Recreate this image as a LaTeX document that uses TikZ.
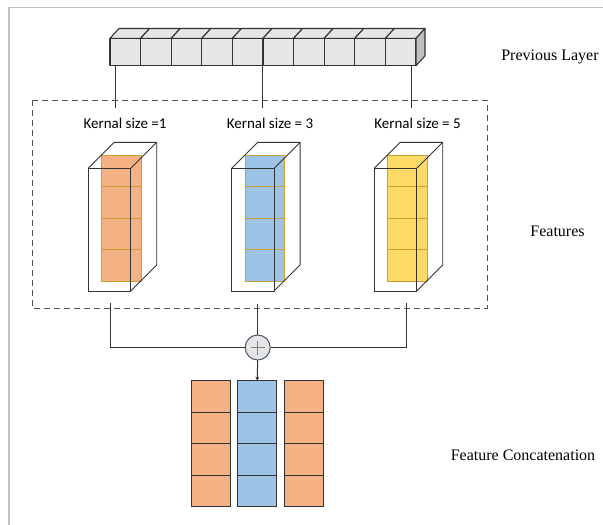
\documentclass[tikz,border=0pt]{standalone}
\usepackage{fontspec}
\setmainfont{Liberation Serif}
\newfontfamily\calib{Carlito}
\usetikzlibrary{arrows.meta}
\definecolor{framegrey}{HTML}{C4C4C4}
\definecolor{cubefill}{HTML}{E7E6E6}
\definecolor{cubeside}{HTML}{BFBFBF}
\definecolor{edge}{HTML}{333333}
\definecolor{orangef}{HTML}{F4B183}
\definecolor{bluef}{HTML}{9DC3E6}
\definecolor{yellowf}{HTML}{FFD966}
\definecolor{goldline}{HTML}{C9A030}
\definecolor{plusring}{HTML}{44546A}
\tikzset{
  cubeface/.style={draw=edge, line width=1.1pt, fill=cubefill, line join=round},
  boxline/.style={draw=edge, line width=0.9pt, line join=round},
  stripcell/.style={draw=goldline, line width=0.9pt},
  wire/.style={draw=edge, line width=1pt},
  kernlabel/.style={font=\calib\fontsize{15}{18}\selectfont, inner sep=0pt},
  sidelabel/.style={font=\fontsize{16}{19}\selectfont, inner sep=0pt},
  concatcell/.style={draw=edge, line width=0.9pt},
}
\begin{document}
\begin{tikzpicture}[x=1pt,y=-1pt]
\useasboundingbox (0,0) rectangle (603,525);

% page frame
\draw[framegrey, line width=1.2pt] (9,525) -- (9,7.5) -- (603,7.5);

% previous layer: a row of ten cubes
\foreach \i in {0,...,9}{
  \pgfmathsetmacro{\xa}{110+30.6*\i}
  \pgfmathsetmacro{\xb}{\xa+30.6}
  \draw[cubeface] (\xa,28.5+9.8) -- (\xa+9,28.5) -- (\xb+9,28.5) -- (\xb,38.3) -- cycle;
  \draw[cubeface] (\xa,38.3) rectangle (\xb,65.7);
}
\draw[cubeface, fill=cubeside] (416,38.3) -- (425,28.5) -- (425,55.9) -- (416,65.7) -- cycle;
\coordinate (tapA) at (115.5,65.7);
\coordinate (tapB) at (262.5,65.7);
\coordinate (tapC) at (411.5,65.7);

% feature region
\draw[edge!85, line width=0.8pt, dash pattern=on 6pt off 4pt] (32,100) rectangle (487,308);

\node[kernlabel] (kA) at (125,123) {Kernal size =1};
\node[kernlabel] (kB) at (270,123) {Kernal size = 3};
\node[kernlabel] (kC) at (417.5,123) {Kernal size = 5};
\coordinate (kAt) at (115.5,108);
\coordinate (kBt) at (262.5,108);
\coordinate (kCt) at (411.5,108);
\draw[wire] (tapA) -- (kAt);
\draw[wire] (tapB) -- (kBt);
\draw[wire] (tapC) -- (kCt);

% feature blocks: coloured strip inside an open box
\foreach \X/\col in {88.3/orangef, 231.7/bluef, 374.3/yellowf}{
  \foreach \k in {0,...,3}{
    \draw[stripcell, fill=\col] (\X+13.4,155+31.5*\k) rectangle (\X+52.7,155+31.5*\k+31.5);
  }
  \draw[boxline] (\X,168.3) rectangle (\X+42.4,291);
  \draw[boxline] (\X,168.3) -- (\X+26,142.3) -- (\X+68.4,142.3) -- (\X+42.4,168.3);
  \draw[boxline] (\X+68.4,142.3) -- (\X+68.4,265) -- (\X+42.4,291);
}

% merge
\node[circle, minimum size=25pt, inner sep=0pt, fill=cubefill, draw=plusring, line width=1pt] (sum) at (257.7,347.5) {};
\draw[gray, line width=0.8pt] ([xshift=-7pt]sum.center) -- ([xshift=7pt]sum.center);
\draw[gray, line width=0.8pt] ([yshift=-7pt]sum.center) -- ([yshift=7pt]sum.center);
\coordinate (fA) at (110.7,303);
\coordinate (fB) at (257.7,304);
\coordinate (fC) at (406.7,303);
\draw[wire] (fA) |- (sum.west);
\draw[wire] (fC) |- (sum.east);
\draw[wire] (fB) -- (sum.north);

% concatenated features
\foreach \X/\col in {191/orangef, 237.7/bluef, 284.3/orangef}{
  \foreach \k in {0,...,3}{
    \draw[concatcell, fill=\col] (\X,380.7+31.5*\k) rectangle (\X+39,380.7+31.5*\k+31.5);
  }
}
\coordinate (catTop) at (257.2,380.7);
\draw[wire, -{Stealth[length=4pt,width=4pt]}] (sum.south) -- (catTop);

% side labels
\node[sidelabel] (lprev) at (550,56.7) {Previous Layer};
\node[sidelabel] (lfeat) at (557.5,231.7) {Features};
\node[sidelabel] (lcat) at (523,455) {Feature Concatenation};
\end{tikzpicture}
\end{document}
